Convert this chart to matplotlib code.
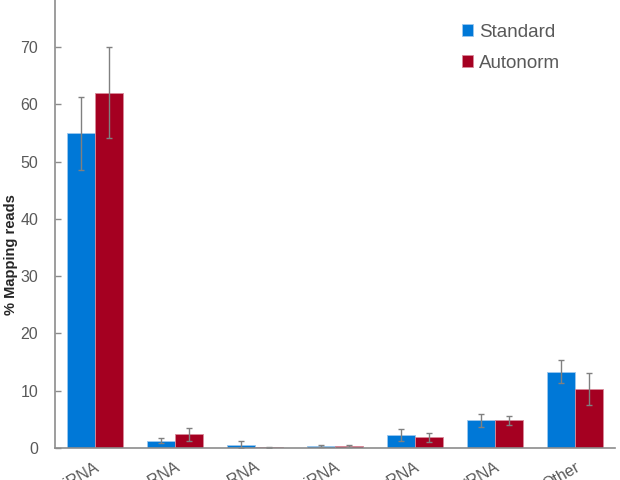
import matplotlib
matplotlib.use("Agg")
import matplotlib.pyplot as plt
import matplotlib.transforms as mtransforms
import numpy as np

plt.rcParams["font.family"] = ["Liberation Sans", "DejaVu Sans"]

BLUE = "#0078D7"
RED = "#A50021"
GREY_TXT = "#595959"
GREY_AX = "#8C8C8C"
ERR = "#808080"

categories = ["miRNA", "snRNA", "snoRNA", "piRNA", "rRNA", "tRNA", "Other"]
standard = [54.9, 1.3, 0.55, 0.35, 2.3, 4.85, 13.35]
standard_err = [6.3, 0.5, 0.6, 0.1, 1.0, 1.1, 2.0]
autonorm = [62.0, 2.4, 0.1, 0.35, 1.85, 4.85, 10.3]
autonorm_err = [7.9, 1.1, 0.1, 0.1, 0.8, 0.8, 2.8]
y_ticks = [0, 10, 20, 30, 40, 50, 60, 70, 80]

fig = plt.figure(figsize=(6.2, 4.8), dpi=100)
ax = fig.add_axes([55 / 620, 32 / 480, 560 / 620, 458.4 / 480])

x = np.arange(len(categories))
w = 0.345
err_kw = dict(ecolor=ERR, elinewidth=1.0, capsize=2.5, capthick=1.0)
ax.bar(x - w / 2, standard, w, yerr=standard_err, color=BLUE, edgecolor="#9CC8EE",
       linewidth=0.6, error_kw=err_kw, label="Standard")
ax.bar(x + w / 2, autonorm, w, yerr=autonorm_err, color=RED, edgecolor="#D98A9A",
       linewidth=0.6, error_kw=err_kw, label="Autonorm")

ax.set_xlim(-0.5, 6.5)
ax.set_ylim(0, 80)
ax.set_yticks(y_ticks)
ax.set_xticks(x)
ax.set_xticklabels(categories, rotation=30, ha="right", va="top", rotation_mode="anchor")
shift = mtransforms.ScaledTranslation(4 / 100, 0, fig.dpi_scale_trans)
for lbl in ax.get_xticklabels():
    lbl.set_transform(lbl.get_transform() + shift)

ax.tick_params(axis="y", direction="in", length=4, width=1, color=GREY_AX,
               labelsize=11.5, labelcolor=GREY_TXT, pad=12)
ax.tick_params(axis="x", length=0, labelsize=11.5, labelcolor=GREY_TXT, pad=8)

for side in ["top", "right"]:
    ax.spines[side].set_visible(False)
for side in ["left", "bottom"]:
    ax.spines[side].set_color(GREY_AX)
    ax.spines[side].set_linewidth(1.2)

ax.set_ylabel("% Mapping reads", fontsize=10.5, fontweight="bold", color="#262626")
ax.yaxis.set_label_coords(-0.066, 0.421)

fig.legend(loc="upper left", bbox_to_anchor=(462 / 620, 1 - 24 / 480), frameon=False,
           fontsize=13.5, borderpad=0, borderaxespad=0, handlelength=0.6, handleheight=0.6,
           handletextpad=0.3, labelspacing=0.72, labelcolor=GREY_TXT)

fig.savefig("out.png", dpi=100)
